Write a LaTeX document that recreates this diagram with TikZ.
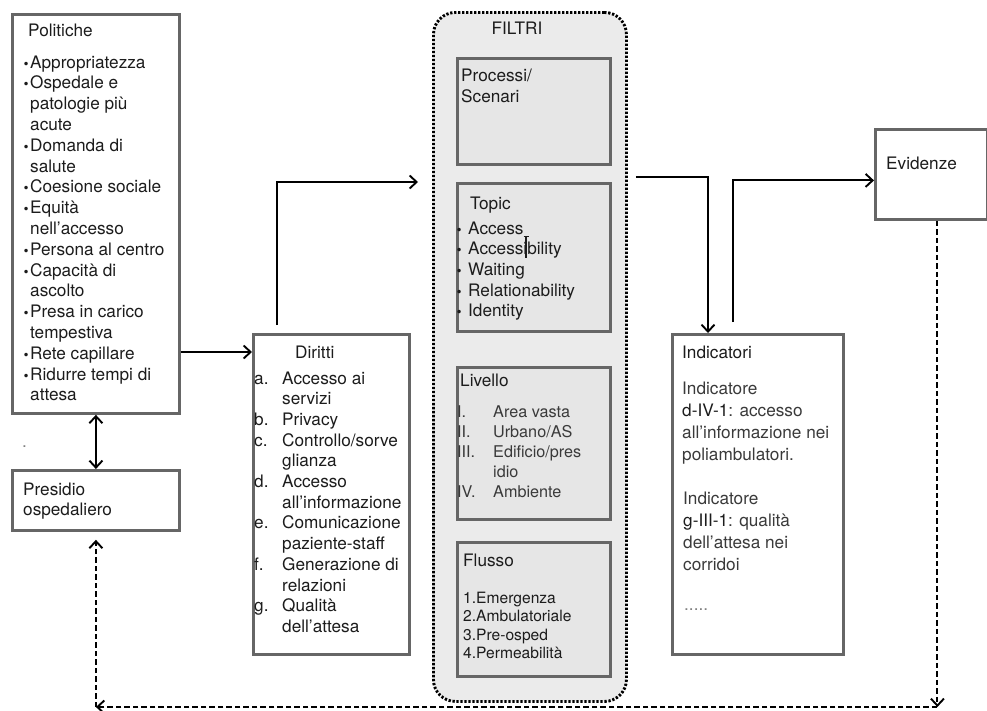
\documentclass[tikz,border=0pt]{standalone}
\usepackage{fontspec}
\setmainfont{TeX Gyre Heros}
\newfontfamily\symfont{DejaVu Sans}
\usetikzlibrary{arrows.meta,calc}

\definecolor{boxline}{HTML}{666666}
\definecolor{filtrifill}{HTML}{EBEBEB}
\definecolor{panelfill}{HTML}{E6E6E6}
\definecolor{ink}{HTML}{1C1C1C}
\definecolor{softink}{HTML}{3A3A3A}
\definecolor{faint}{HTML}{808080}

% list helpers: bullet, hanging indent, fixed-width labels
\newcommand\bul[1][6pt]{\makebox[#1][l]{\hspace*{-1.5pt}{\symfont\fontsize{12}{12}\selectfont •}}}
\newcommand\hang[1][6pt]{\hspace*{#1}}
\newcommand\lab[2][28pt]{\makebox[#1][l]{#2}}

\begin{document}
\begin{tikzpicture}[x=1pt,y=-1pt,
  panel/.style={draw=boxline, line width=2.8pt, fill=white, inner sep=0pt, anchor=north west},
  subpanel/.style={draw=boxline, line width=2.6pt, fill=panelfill, inner sep=0pt, anchor=north west},
  txt/.style={anchor=base west, inner sep=0pt, text=ink, font=\fontsize{17.2}{20.8}\selectfont},
  link/.style={line width=1.9pt, draw=black, -{Straight Barb[length=7pt,width=13pt]}},
  back/.style={link, dash pattern=on 5.5pt off 3pt},
]
\useasboundingbox (0,0) rectangle (987,710);

% ---------- FILTRI container ----------
\node[draw=black, fill=filtrifill, rounded corners=22pt, line width=2.9pt,
      dash pattern=on 2.3pt off 1.7pt, inner sep=0pt, anchor=north west,
      minimum width=193pt, minimum height=689pt] (filtri) at (432,11) {};
\node[txt, anchor=base] (filtriT) at (517,34) {FILTRI};

\node[subpanel, minimum width=153pt, minimum height=106pt] (proc) at (456,57) {};
\node[subpanel, minimum width=153pt, minimum height=148pt] (topic) at (456,182) {};
\node[subpanel, minimum width=153pt, minimum height=152pt] (liv) at (456,366) {};
\node[subpanel, minimum width=153pt, minimum height=134pt] (flu) at (456,541) {};

\node[txt] (procT) at (461,81) {\begin{tabular}[t]{@{}l@{}}Processi/\\[1pt]Scenari\end{tabular}};

\node[txt] (topicT) at (470,209) {Topic};
\node[txt, font=\fontsize{17.2}{20.7}\selectfont] (topicL) at (457,234) {\begin{tabular}[t]{@{}l@{}}
  \bul[11pt]Access\\
  \bul[11pt]Accessibility\\
  \bul[11pt]Waiting\\
  \bul[11pt]Relationability\\
  \bul[11pt]Identity\end{tabular}};
\draw[line width=1.1pt, ink] (526,236) -- (526,258);
\draw[line width=0.9pt, ink] (523.5,236) -- (528.5,236);

\node[txt] (livT) at (460,386) {Livello};
\node[txt, text=softink, font=\fontsize{16.2}{20}\selectfont] (livL) at (457,417.5) {\begin{tabular}[t]{@{}l@{}}
  \lab[36pt]{I.}Area vasta\\
  \lab[36pt]{II.}Urbano/AS\\
  \lab[36pt]{III.}Edificio/pres\\
  \hang[36pt]idio\\
  \lab[36pt]{IV.}Ambiente\end{tabular}};

\node[txt] (fluT) at (463,566) {Flusso};
\node[txt, font=\fontsize{15.6}{18.5}\selectfont] (fluL) at (463,603) {\begin{tabular}[t]{@{}l@{}}
  1.Emergenza\\
  2.Ambulatoriale\\
  3.Pre-osped\\
  4.Permeabilità\end{tabular}};

% ---------- Politiche ----------
\node[panel, minimum width=167pt, minimum height=399pt] (pol) at (11,13) {};
\node[txt] (polT) at (28,36) {Politiche};
\node[txt] (polL) at (24,68) {\begin{tabular}[t]{@{}l@{}}
  \bul Appropriatezza\\
  \bul Ospedale e\\
  \hang patologie più\\
  \hang acute\\
  \bul Domanda di\\
  \hang salute\\
  \bul Coesione sociale\\
  \bul Equità\\
  \hang nell’accesso\\
  \bul Persona al centro\\
  \bul Capacità di\\
  \hang ascolto\\
  \bul Presa in carico\\
  \hang tempestiva\\
  \bul Rete capillare\\
  \bul Ridurre tempi di\\
  \hang attesa\end{tabular}};
\node[txt, text=faint] (dot) at (22,447) {.};

% ---------- Presidio ospedaliero ----------
\node[panel, minimum width=167pt, minimum height=60pt] (pres) at (11,469) {};
\node[txt] (presT) at (23,495) {\begin{tabular}[t]{@{}l@{}}Presidio\\ospedaliero\end{tabular}};

% ---------- Diritti ----------
\node[panel, minimum width=156pt, minimum height=320pt] (dir) at (252,333) {};
\node[txt] (dirT) at (295,358) {Diritti};
\node[txt, font=\fontsize{17.2}{20.7}\selectfont] (dirL) at (254,384) {\begin{tabular}[t]{@{}l@{}}
  \lab{a.}Accesso ai\\
  \hang[28pt]servizi\\
  \lab{b.}Privacy\\
  \lab{c.}Controllo/sorve\\
  \hang[28pt]glianza\\
  \lab{d.}Accesso\\
  \hang[28pt]all’informazione\\
  \lab{e.}Comunicazione\\
  \hang[28pt]paziente-staff\\
  \lab{f.}Generazione di\\
  \hang[28pt]relazioni\\
  \lab{g.}Qualità\\
  \hang[28pt]dell’attesa\end{tabular}};

% ---------- Indicatori ----------
\node[panel, minimum width=171pt, minimum height=320pt] (ind) at (671,333) {};
\node[txt] (indT) at (682,358) {Indicatori};
\node[txt, text=softink, font=\fontsize{17.2}{22}\selectfont] (indA) at (682,394) {\begin{tabular}[t]{@{}l@{}}
  Indicatore\\
  {\color{ink}d-IV-1}: accesso\\
  all’informazione nei\\
  poliambulatori.\end{tabular}};
\node[txt, text=softink, font=\fontsize{17.2}{22}\selectfont] (indB) at (683,504) {\begin{tabular}[t]{@{}l@{}}
  Indicatore\\
  {\color{ink}g-III-1}: qualità\\
  dell’attesa nei\\
  corridoi\end{tabular}};
\node[txt, text=faint] (indC) at (684,610) {.....};

% ---------- Evidenze ----------
\node[panel, minimum width=112pt, minimum height=90pt] (ev) at (874,128) {};
\node[txt] (evT) at (886,169) {Evidenze};

% ---------- connectors ----------
\coordinate (dw) at ([yshift=-19pt]dir.north west);
\draw[link] (pol.east |- dw) -- (dw);

\draw[line width=1.9pt, {Straight Barb[length=7pt,width=13pt]}-{Straight Barb[length=7pt,width=13pt]}]
  (pol.south) -- (pres.north);

\draw[link, shorten <=8pt, shorten >=14pt] ([xshift=25pt]dir.north west) |- (filtri.west |- topic.north);

\coordinate (fo) at ([yshift=5pt]filtri.east |- topic.north);
\draw[link, shorten <=8pt] (fo) -| ([xshift=37pt]ind.north west);

\draw[link, shorten <=11pt] ([xshift=62pt]ind.north west) |- ([yshift=-6pt]ev.west);

% feedback loop back to the hospital
\coordinate (evs) at ([xshift=6pt]ev.south);
\coordinate (cR) at (evs |- 0,707);
\coordinate (cL) at (pres.south |- 0,707);
\draw[back] (evs) -- (cR);
\draw[back] (cR) -- (cL);
\draw[back, shorten >=8pt] (cL) -- (pres.south);
\end{tikzpicture}
\end{document}
